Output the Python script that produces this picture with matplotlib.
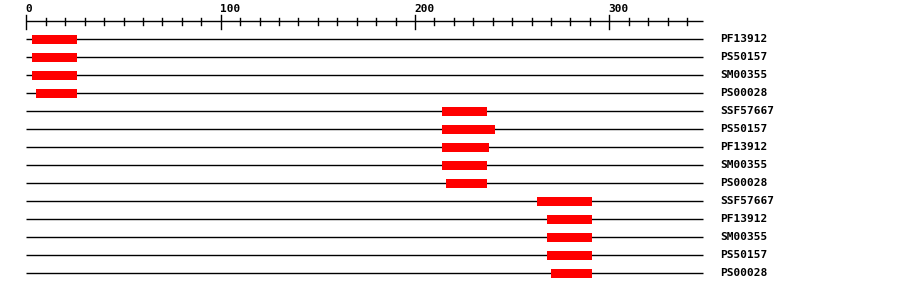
import matplotlib
matplotlib.use("Agg")
import matplotlib.pyplot as plt

# domain hits, top to bottom
labels = ["PF13912", "PS50157", "SM00355", "PS00028", "SSF57667", "PS50157",
          "PF13912", "SM00355", "PS00028", "SSF57667", "PF13912", "SM00355",
          "PS50157", "PS00028"]
starts = [3, 3, 3, 5, 214, 214, 214, 214, 216, 263, 268, 268, 268, 270]
ends = [26, 26, 26, 26, 237, 241, 238, 237, 237, 291, 291, 291, 291, 291]
seq_len = 348
ruler_labels = [0, 100, 200, 300]

fig = plt.figure(figsize=(9, 2.92), dpi=100)
ax = fig.add_axes([0, 0, 1, 1])
ax.axis("off")

# x in residues, y in pixels from the top
scale = 1.9427
x0 = 26.5
ax.set_xlim(-x0 / scale, (900 - x0) / scale)
ax.set_ylim(292, 0)

# ruler
ax.plot([0, seq_len], [21, 21], color="black", lw=1.0, solid_capstyle="butt")
for t in range(0, 341, 10):
    if t % 100 == 0:
        ax.plot([t, t], [14.5, 28.5], color="black", lw=1.0)
    else:
        ax.plot([t, t], [17.5, 24.5], color="black", lw=1.0)
for t in ruler_labels:
    ax.text(t - 0.4, 8.5, str(t), ha="left", va="center", family="DejaVu Sans Mono",
            fontsize=8, fontweight="bold")

# rows
for i, name in enumerate(labels):
    y = 39.3 + 18 * i
    ax.plot([0, seq_len], [y, y], color="black", lw=1.0, solid_capstyle="butt", zorder=1)
    ax.barh(y, ends[i] - starts[i], left=starts[i], height=9, color="#ff0000",
            linewidth=0, zorder=3)
    ax.text(357, y, name, ha="left", va="center", family="DejaVu Sans Mono",
            fontsize=8, fontweight="bold")

fig.savefig("out.png", dpi=100)
